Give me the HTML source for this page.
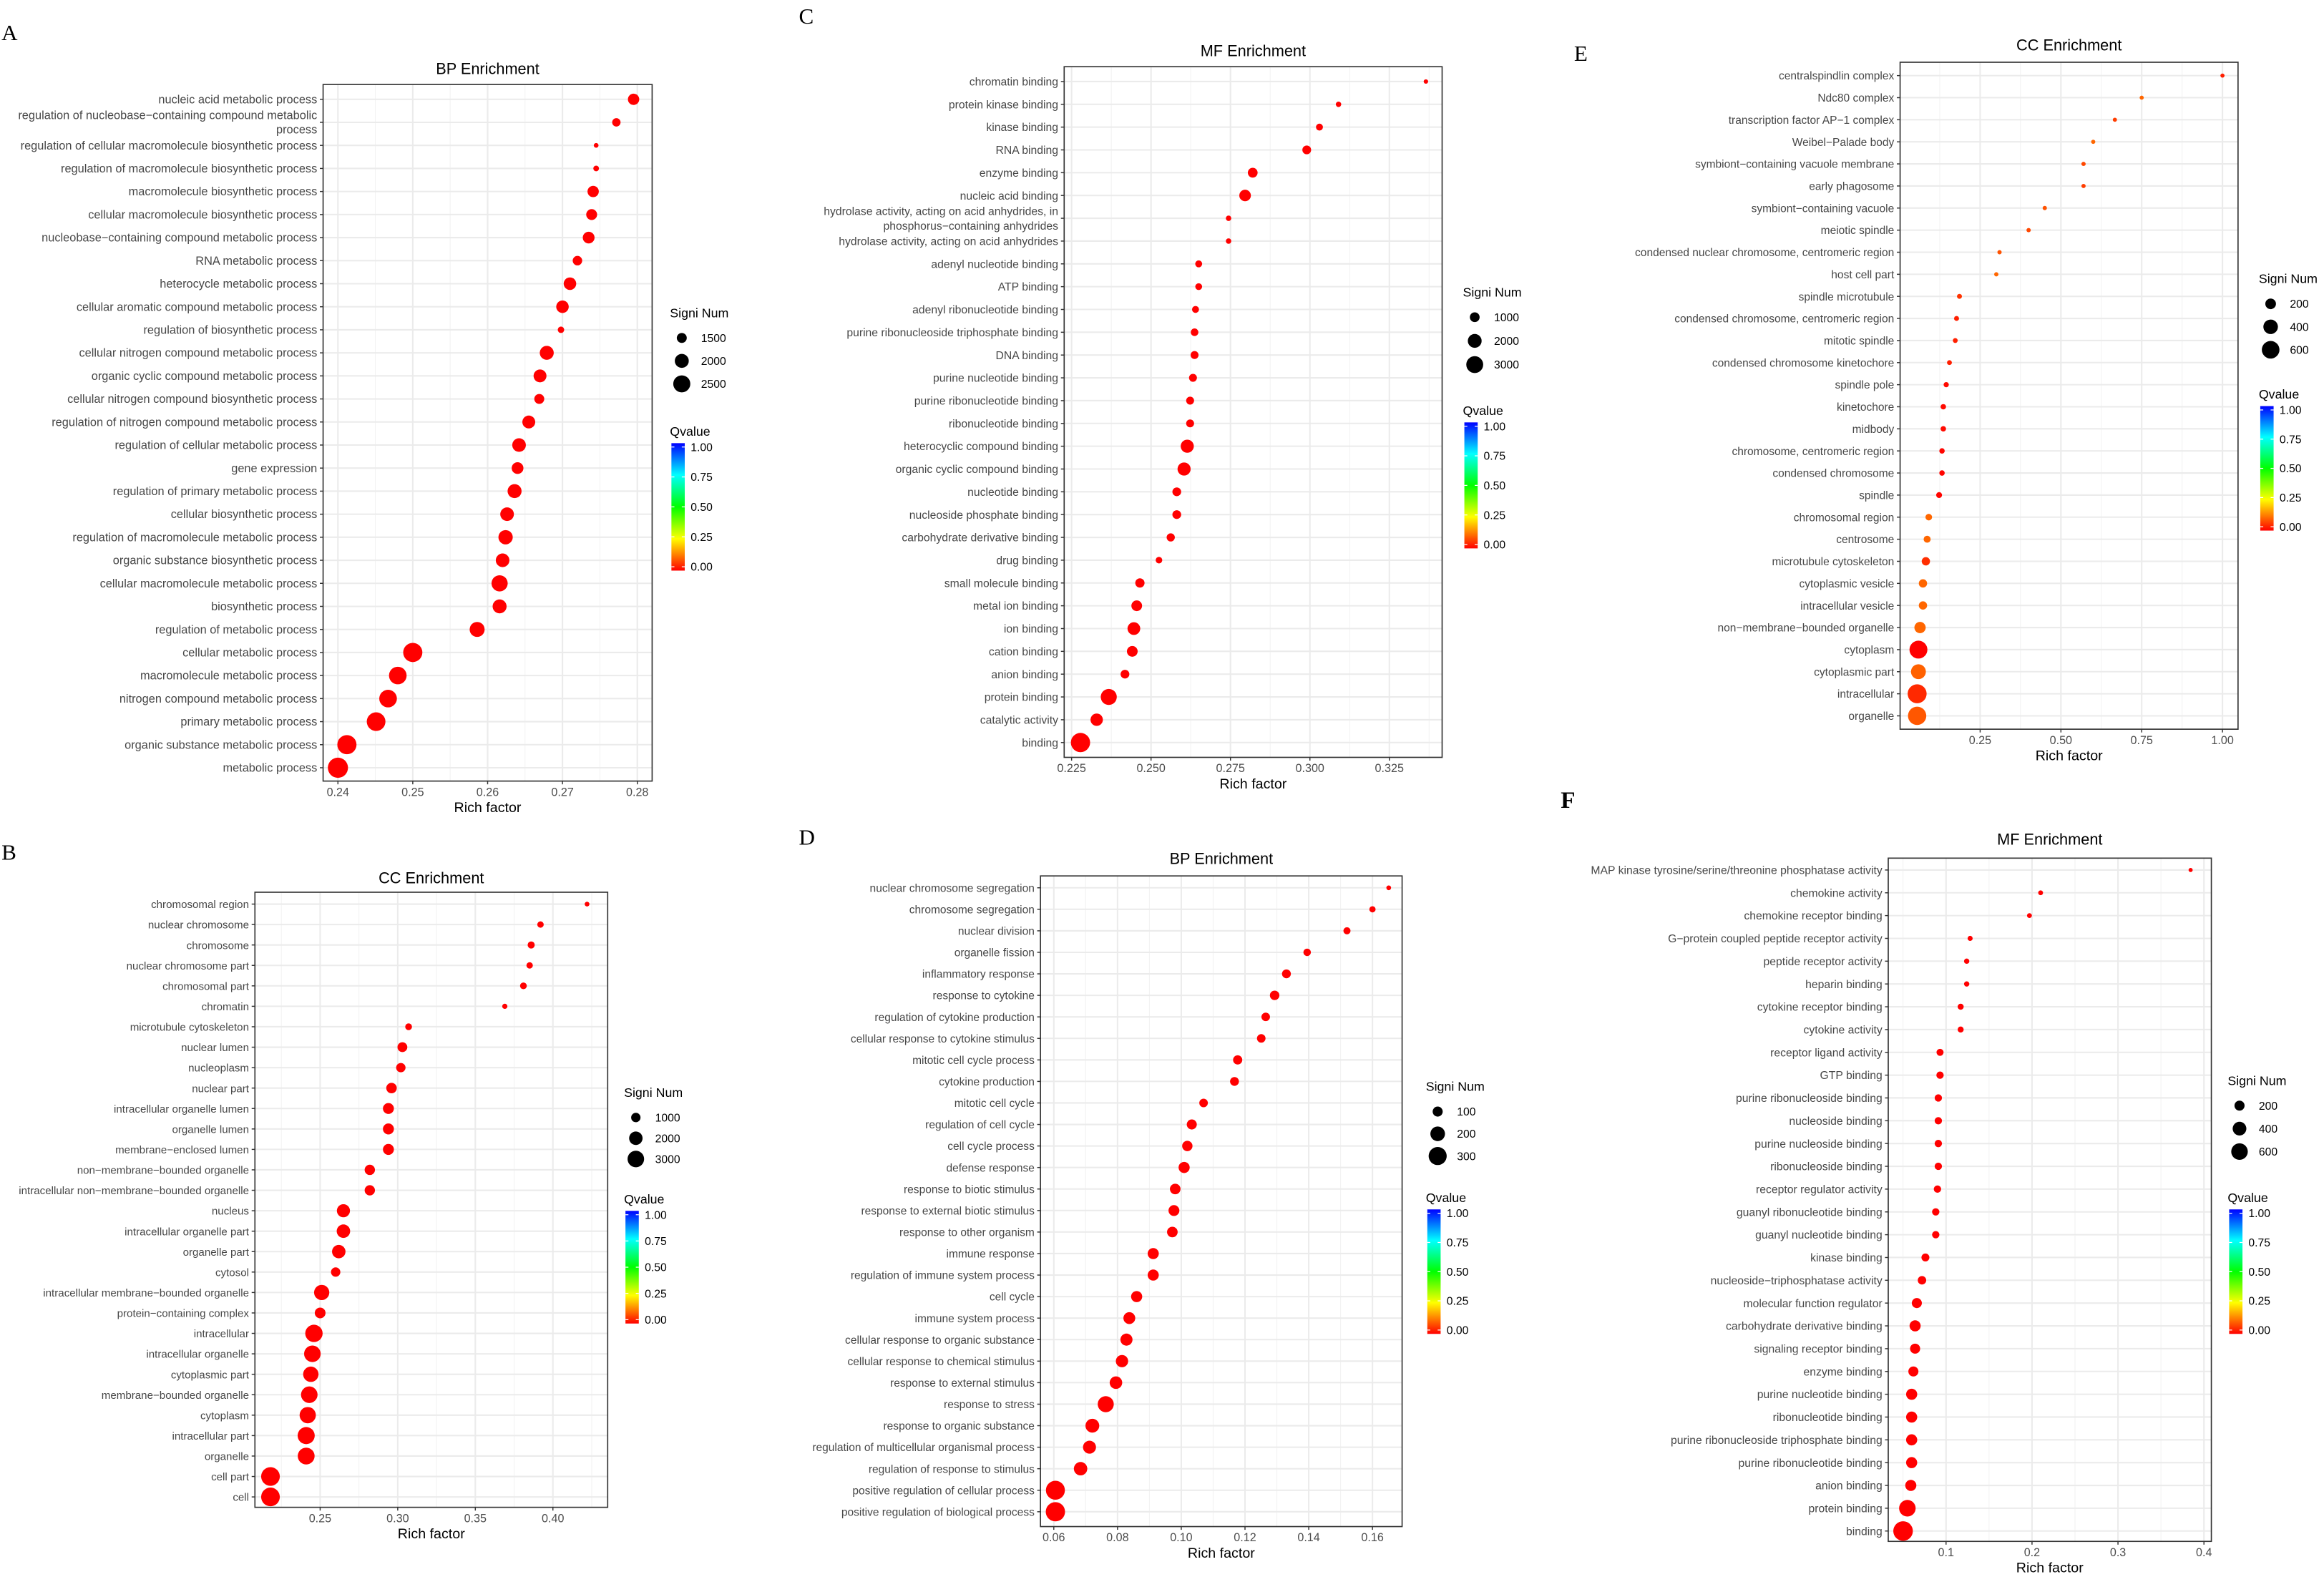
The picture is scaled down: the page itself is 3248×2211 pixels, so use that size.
<!DOCTYPE html>
<html><head><meta charset="utf-8"><title>GO Enrichment</title>
<style>html,body{margin:0;padding:0;background:#fff;}svg{display:block;font-family:"Liberation Sans",sans-serif;}</style>
</head><body>
<svg id="fig" width="3248" height="2211" viewBox="0 0 1568 1067.4" preserveAspectRatio="none" xmlns="http://www.w3.org/2000/svg">
<rect x="0" y="0" width="1568" height="1067.4" fill="#fff"/>
</svg>
<script>
// ===== Panel A: BP Enrichment =====
const A_terms=["nucleic acid metabolic process","regulation of nucleobase\u2212containing compound metabolic\nprocess","regulation of cellular macromolecule biosynthetic process","regulation of macromolecule biosynthetic process","macromolecule biosynthetic process","cellular macromolecule biosynthetic process","nucleobase\u2212containing compound metabolic process","RNA metabolic process","heterocycle metabolic process","cellular aromatic compound metabolic process","regulation of biosynthetic process","cellular nitrogen compound metabolic process","organic cyclic compound metabolic process","cellular nitrogen compound biosynthetic process","regulation of nitrogen compound metabolic process","regulation of cellular metabolic process","gene expression","regulation of primary metabolic process","cellular biosynthetic process","regulation of macromolecule metabolic process","organic substance biosynthetic process","cellular macromolecule metabolic process","biosynthetic process","regulation of metabolic process","cellular metabolic process","macromolecule metabolic process","nitrogen compound metabolic process","primary metabolic process","organic substance metabolic process","metabolic process"];
const A_rich=[0.2795,0.2772,0.2745,0.2745,0.2741,0.2739,0.2735,0.272,0.271,0.270,0.2698,0.2679,0.267,0.2669,0.2655,0.2642,0.264,0.2636,0.2626,0.2624,0.262,0.2616,0.2616,0.2586,0.250,0.248,0.2467,0.2451,0.2412,0.2400];
const A_count=[1650,1350,1100,1150,1650,1600,1700,1450,1800,1800,1200,2000,1850,1500,1850,1950,1700,2000,1950,2050,1950,2350,2000,2150,2900,2600,2600,2800,2900,3100];
const A_q=[0,0,0,0,0,0,0,0,0,0,0,0,0,0,0,0,0,0,0,0,0,0,0,0,0,0,0,0,0,0];
const A_ticks=[0.24,0.25,0.26,0.27,0.28];
const A_tickLabels=["0.24","0.25","0.26","0.27","0.28"];
const A_legend=[1500,2000,2500];

// ===== Panel B: CC Enrichment =====
const B_terms=["chromosomal region","nuclear chromosome","chromosome","nuclear chromosome part","chromosomal part","chromatin","microtubule cytoskeleton","nuclear lumen","nucleoplasm","nuclear part","intracellular organelle lumen","organelle lumen","membrane\u2212enclosed lumen","non\u2212membrane\u2212bounded organelle","intracellular non\u2212membrane\u2212bounded organelle","nucleus","intracellular organelle part","organelle part","cytosol","intracellular membrane\u2212bounded organelle","protein\u2212containing complex","intracellular","intracellular organelle","cytoplasmic part","membrane\u2212bounded organelle","cytoplasm","intracellular part","organelle","cell part","cell"];
const B_rich=[0.422,0.392,0.386,0.385,0.381,0.369,0.307,0.303,0.302,0.296,0.294,0.294,0.294,0.282,0.282,0.265,0.265,0.262,0.260,0.251,0.250,0.246,0.245,0.244,0.243,0.242,0.241,0.241,0.218,0.218];
const B_count=[300,500,600,500,550,350,550,1100,1000,1250,1350,1350,1350,1200,1200,1900,2000,2000,1000,2550,1300,3300,3000,2600,3000,2900,3200,3100,3800,3800];
const B_q=[0,0,0,0,0,0,0,0,0,0,0,0,0,0,0,0,0,0,0,0,0,0,0,0,0,0,0,0,0,0];
const B_ticks=[0.25,0.30,0.35,0.40];
const B_tickLabels=["0.25","0.30","0.35","0.40"];
const B_legend=[1000,2000,3000];

// ===== Panel C: MF Enrichment =====
const C_terms=["chromatin binding","protein kinase binding","kinase binding","RNA binding","enzyme binding","nucleic acid binding","hydrolase activity, acting on acid anhydrides, in\nphosphorus\u2212containing anhydrides","hydrolase activity, acting on acid anhydrides","adenyl nucleotide binding","ATP binding","adenyl ribonucleotide binding","purine ribonucleoside triphosphate binding","DNA binding","purine nucleotide binding","purine ribonucleotide binding","ribonucleotide binding","heterocyclic compound binding","organic cyclic compound binding","nucleotide binding","nucleoside phosphate binding","carbohydrate derivative binding","drug binding","small molecule binding","metal ion binding","ion binding","cation binding","anion binding","protein binding","catalytic activity","binding"];
const C_rich=[0.3365,0.309,0.303,0.299,0.282,0.2796,0.2744,0.2744,0.265,0.265,0.264,0.2637,0.2637,0.2632,0.2623,0.2623,0.2614,0.2604,0.2581,0.2581,0.2562,0.2525,0.2465,0.2455,0.2446,0.2441,0.2418,0.2367,0.2329,0.2278];
const C_count=[200,300,500,800,1000,1400,300,300,500,480,500,600,650,650,650,650,1800,1800,800,800,700,450,900,1200,1700,1200,800,2700,1600,3900];
const C_q=[0,0,0,0,0,0,0,0,0,0,0,0,0,0,0,0,0,0,0,0,0,0,0,0,0,0,0,0,0,0];
const C_ticks=[0.225,0.250,0.275,0.300,0.325];
const C_tickLabels=["0.225","0.250","0.275","0.300","0.325"];
const C_legend=[1000,2000,3000];

// ===== Panel D: BP Enrichment =====
const D_terms=["nuclear chromosome segregation","chromosome segregation","nuclear division","organelle fission","inflammatory response","response to cytokine","regulation of cytokine production","cellular response to cytokine stimulus","mitotic cell cycle process","cytokine production","mitotic cell cycle","regulation of cell cycle","cell cycle process","defense response","response to biotic stimulus","response to external biotic stimulus","response to other organism","immune response","regulation of immune system process","cell cycle","immune system process","cellular response to organic substance","cellular response to chemical stimulus","response to external stimulus","response to stress","response to organic substance","regulation of multicellular organismal process","regulation of response to stimulus","positive regulation of cellular process","positive regulation of biological process"];
const D_rich=[0.1651,0.160,0.152,0.1395,0.133,0.1293,0.1265,0.1251,0.1177,0.1167,0.107,0.1033,0.1019,0.1009,0.0981,0.0977,0.0972,0.0912,0.0912,0.086,0.0837,0.0828,0.0814,0.0795,0.0763,0.0721,0.0712,0.0684,0.0605,0.0605];
const D_count=[30,45,55,60,80,90,75,75,85,80,75,100,105,120,110,115,110,120,120,120,135,140,145,150,240,180,160,170,330,340];
const D_q=[0,0,0,0,0,0,0,0,0,0,0,0,0,0,0,0,0,0,0,0,0,0,0,0,0,0,0,0,0,0];
const D_ticks=[0.06,0.08,0.10,0.12,0.14,0.16];
const D_tickLabels=["0.06","0.08","0.10","0.12","0.14","0.16"];
const D_legend=[100,200,300];

// ===== Panel E: CC Enrichment =====
const E_terms=["centralspindlin complex","Ndc80 complex","transcription factor AP\u22121 complex","Weibel\u2212Palade body","symbiont\u2212containing vacuole membrane","early phagosome","symbiont\u2212containing vacuole","meiotic spindle","condensed nuclear chromosome, centromeric region","host cell part","spindle microtubule","condensed chromosome, centromeric region","mitotic spindle","condensed chromosome kinetochore","spindle pole","kinetochore","midbody","chromosome, centromeric region","condensed chromosome","spindle","chromosomal region","centrosome","microtubule cytoskeleton","cytoplasmic vesicle","intracellular vesicle","non\u2212membrane\u2212bounded organelle","cytoplasm","cytoplasmic part","intracellular","organelle"];
const E_rich=[1.0,0.75,0.667,0.6,0.57,0.57,0.45,0.4,0.31,0.3,0.186,0.177,0.173,0.155,0.145,0.136,0.136,0.132,0.132,0.123,0.091,0.086,0.082,0.073,0.073,0.064,0.059,0.059,0.055,0.055];
const E_count=[5,5,5,5,7,7,7,7,7,7,20,20,18,18,25,30,30,30,30,40,60,70,110,110,110,230,620,420,700,650];
const E_q=[0.03,0.1,0.06,0.1,0.07,0.06,0.08,0.07,0.08,0.1,0.05,0.03,0.03,0.03,0.01,0.01,0.01,0.005,0.005,0.005,0.1,0.1,0.045,0.1,0.1,0.1,0.0,0.095,0.04,0.085];
const E_ticks=[0.25,0.50,0.75,1.00];
const E_tickLabels=["0.25","0.50","0.75","1.00"];
const E_legend=[200,400,600];

// ===== Panel F: MF Enrichment =====
const F_terms=["MAP kinase tyrosine/serine/threonine phosphatase activity","chemokine activity","chemokine receptor binding","G\u2212protein coupled peptide receptor activity","peptide receptor activity","heparin binding","cytokine receptor binding","cytokine activity","receptor ligand activity","GTP binding","purine ribonucleoside binding","nucleoside binding","purine nucleoside binding","ribonucleoside binding","receptor regulator activity","guanyl ribonucleotide binding","guanyl nucleotide binding","kinase binding","nucleoside\u2212triphosphatase activity","molecular function regulator","carbohydrate derivative binding","signaling receptor binding","enzyme binding","purine nucleotide binding","ribonucleotide binding","purine ribonucleoside triphosphate binding","purine ribonucleotide binding","anion binding","protein binding","binding"];
const F_rich=[0.3845,0.21,0.197,0.128,0.124,0.124,0.117,0.117,0.093,0.093,0.091,0.091,0.091,0.091,0.090,0.088,0.088,0.076,0.072,0.066,0.064,0.064,0.062,0.060,0.060,0.060,0.060,0.059,0.055,0.050];
const F_count=[5,20,20,25,30,30,50,50,80,90,90,90,90,90,90,90,90,110,130,200,250,200,200,250,250,250,250,250,600,850];
const F_q=[0,0,0,0,0,0,0,0,0,0,0,0,0,0,0,0,0,0,0,0,0,0,0,0,0,0,0,0,0,0];
const F_ticks=[0.1,0.2,0.3,0.4];
const F_tickLabels=["0.1","0.2","0.3","0.4"];
const F_legend=[200,400,600];

const QTICKS=[1.00,0.75,0.50,0.25,0.00];
const QTICK_LABELS=["1.00","0.75","0.50","0.25","0.00"];

const NS="http://www.w3.org/2000/svg";
const svg=document.getElementById('fig');
function mk(tag,attrs,parent){const e=document.createElementNS(NS,tag);for(const k in attrs)e.setAttribute(k,attrs[k]);(parent||svg).appendChild(e);return e;}
function qColor(q){
  const st=[[0,[255,0,0]],[0.25,[255,255,0]],[0.5,[0,255,0]],[0.75,[0,255,255]],[1,[0,0,255]]];
  q=Math.max(0,Math.min(1,q));
  for(let i=0;i<st.length-1;i++){const a=st[i],b=st[i+1];if(q<=b[0]){const t=(q-a[0])/(b[0]-a[0]);const c=a[1].map((v,j)=>Math.round(v+(b[1][j]-v)*t));return 'rgb('+c.join(',')+')';}}
  return 'rgb(0,0,255)';
}
const defs=mk('defs',{});
const grad=mk('linearGradient',{id:'qgrad',x1:'0',y1:'0',x2:'0',y2:'1'},defs);
[['0%','#0000FF'],['25%','#00FFFF'],['50%','#00FF00'],['75%','#FFFF00'],['100%','#FF0000']].forEach(s=>mk('stop',{offset:s[0],'stop-color':s[1]},grad));

function drawPanel(c,terms,rich,count,q,ticks,tickLabels,legendVals){
  const g=mk('g',{});
  
  
  const X=v=>c.x0px+(v-c.v0)*c.scale;
  const n=terms.length;
  const Y=i=>c.yFirst+i*(c.yLast-c.yFirst)/(n-1);
  const lo=Math.min(...count),hi=Math.max(...count);
  const R=v=>{let t=(v-lo)/(hi-lo||1);t=Math.max(0,Math.min(1.15,t));return Math.sqrt(c.r0*c.r0+(c.r1*c.r1-c.r0*c.r0)*t);};

  const letter=mk('text',{x:c.lx,y:c.ly,'font-family':'"Liberation Serif",serif','font-size':c.lbold?16:15,'font-weight':c.lbold?'bold':'normal',fill:'#000'},g);
  letter.textContent=c.letter;
  
  

  const title=mk('text',{x:(c.left+c.right)/2,y:c.titleY,'text-anchor':'middle','font-size':10.5,fill:'#000'},g);
  title.textContent=c.title;
  
  

  const bg=mk('rect',{x:c.left,y:c.top,width:c.right-c.left,height:c.bottom-c.top,fill:'#fff'},g);
  
  

  const step=ticks[1]-ticks[0];
  const minors=[];
  for(let k=-1;k<ticks.length;k++){minors.push(ticks[0]+(k+0.5)*step);}
  minors.forEach(m=>{const px=X(m);if(px>c.left&&px<c.right){const l=mk('line',{x1:px,x2:px,y1:c.top,y2:c.bottom,stroke:'#F2F2F2','stroke-width':0.5},g);}});
  ticks.forEach(t=>{const px=X(t);const l=mk('line',{x1:px,x2:px,y1:c.top,y2:c.bottom,stroke:'#EBEBEB','stroke-width':1},g);});
  for(let i=0;i<n;i++){const l=mk('line',{x1:c.left,x2:c.right,y1:Y(i),y2:Y(i),stroke:'#EBEBEB','stroke-width':1},g);}

  for(let i=0;i<n;i++){
    const d=mk('circle',{cx:X(rich[i]),cy:Y(i),r:R(count[i]),fill:qColor(q[i])},g);
    
    
  }
  const border=mk('rect',{x:c.left,y:c.top,width:c.right-c.left,height:c.bottom-c.top,fill:'none',stroke:'#333','stroke-width':0.8},g);
  
  

  for(let i=0;i<n;i++){
    const tm=mk('line',{x1:c.left-2.2,x2:c.left,y1:Y(i),y2:Y(i),stroke:'#333','stroke-width':0.7},g);
    
    
    const lines=terms[i].split('\n');
    const tx=mk('text',{x:c.left-4,y:Y(i)+2.7-(lines.length-1)*4.9,'text-anchor':'end','font-size':c.fs,fill:'#474747'},g);
    
    
    lines.forEach((ln,j)=>{const ts=mk('tspan',{x:c.left-4,dy:j?9.8:0},tx);ts.textContent=ln;});
  }
  ticks.forEach((t,k)=>{
    const px=X(t);
    const tm=mk('line',{x1:px,x2:px,y1:c.bottom,y2:c.bottom+2.2,stroke:'#333','stroke-width':0.7},g);
    
    
    const tl=mk('text',{x:px,y:c.bottom+10,'text-anchor':'middle','font-size':7.8,fill:'#4D4D4D'},g);
    tl.textContent=tickLabels[k];
    
    
  });
  const xt=mk('text',{x:(c.left+c.right)/2,y:c.bottom+21,'text-anchor':'middle','font-size':9.5,fill:'#000'},g);
  xt.textContent='Rich factor';
  
  

  const st=mk('text',{x:c.lgx,y:c.sTitleY,'font-size':8.6,fill:'#000'},g);
  st.textContent='Signi Num';
  
  
  legendVals.forEach((v,k)=>{
    const cy=c.sTitleY+14+k*c.sStep;
    const cc=mk('circle',{cx:c.lgx+8,cy:cy,r:R(v),fill:'#000'},g);
    
    
    const lt=mk('text',{x:c.lgx+21,y:cy+2.7,'font-size':7.6,fill:'#000'},g);
    lt.textContent=String(v);
    
    
  });
  const qt=mk('text',{x:c.lgx,y:c.qTitleY,'font-size':8.6,fill:'#000'},g);
  qt.textContent='Qvalue';
  
  
  const by0=c.qTitleY+5,by1=by0+c.barH;
  const bar=mk('rect',{x:c.lgx+1,y:by0,width:9,height:c.barH,fill:'url(#qgrad)'},g);
  
  
  const pad=2.6;
  QTICKS.forEach((v,k)=>{
    const yy=by1-pad-(v)*(c.barH-2*pad);
    const w1=mk('line',{x1:c.lgx+1,x2:c.lgx+3,y1:yy,y2:yy,stroke:'#fff','stroke-width':0.6},g);
    
    
    const w2=mk('line',{x1:c.lgx+8,x2:c.lgx+10,y1:yy,y2:yy,stroke:'#fff','stroke-width':0.6},g);
    
    
    const lt=mk('text',{x:c.lgx+14,y:yy+2.7,'font-size':7.6,fill:'#000'},g);
    lt.textContent=QTICK_LABELS[k];
    
    
  });
}

drawPanel({id:'a',letter:'A',lx:1,ly:27,title:'BP Enrichment',titleY:50,left:218,right:440,top:57,bottom:527,x0px:228,v0:0.24,scale:5050,yFirst:67,yLast:518,r0:1.6,r1:6.8,fs:7.9,lgx:452,sTitleY:214,sStep:15.5,qTitleY:294,barH:86},A_terms,A_rich,A_count,A_q,A_ticks,A_tickLabels,A_legend);
drawPanel({id:'b',letter:'B',lx:1,ly:580,title:'CC Enrichment',titleY:596,left:172,right:410,top:602,bottom:1017,x0px:216,v0:0.25,scale:1047,yFirst:610,yLast:1010,r0:1.6,r1:6.3,fs:7.3,lgx:421,sTitleY:740,sStep:14,qTitleY:812,barH:76},B_terms,B_rich,B_count,B_q,B_ticks,B_tickLabels,B_legend);
drawPanel({id:'c',letter:'C',lx:539,ly:16,title:'MF Enrichment',titleY:38,left:718,right:973,top:45,bottom:511,x0px:723,v0:0.225,scale:2144,yFirst:55,yLast:501,r0:1.5,r1:6.5,fs:7.6,lgx:987,sTitleY:200,sStep:16,qTitleY:280,barH:85},C_terms,C_rich,C_count,C_q,C_ticks,C_tickLabels,C_legend);
drawPanel({id:'d',letter:'D',lx:539,ly:570,title:'BP Enrichment',titleY:583,left:702,right:946,top:591,bottom:1030,x0px:711,v0:0.06,scale:2150,yFirst:599,yLast:1020,r0:1.6,r1:6.5,fs:7.5,lgx:962,sTitleY:736,sStep:15,qTitleY:811,barH:84},D_terms,D_rich,D_count,D_q,D_ticks,D_tickLabels,D_legend);
drawPanel({id:'e',letter:'E',lx:1062,ly:41,title:'CC Enrichment',titleY:34,left:1282,right:1510,top:42,bottom:492,x0px:1336,v0:0.25,scale:218,yFirst:51,yLast:483,r0:1.4,r1:6.4,fs:7.5,lgx:1524,sTitleY:191,sStep:15.5,qTitleY:269,barH:84},E_terms,E_rich,E_count,E_q,E_ticks,E_tickLabels,E_legend);
drawPanel({id:'f',letter:'F',lx:1053,ly:545,lbold:true,title:'MF Enrichment',titleY:570,left:1274,right:1492,top:579,bottom:1040,x0px:1313,v0:0.1,scale:580,yFirst:587,yLast:1033,r0:1.4,r1:6.6,fs:7.6,lgx:1503,sTitleY:732,sStep:15.5,qTitleY:811,barH:84},F_terms,F_rich,F_count,F_q,F_ticks,F_tickLabels,F_legend);
</script>
</body></html>
